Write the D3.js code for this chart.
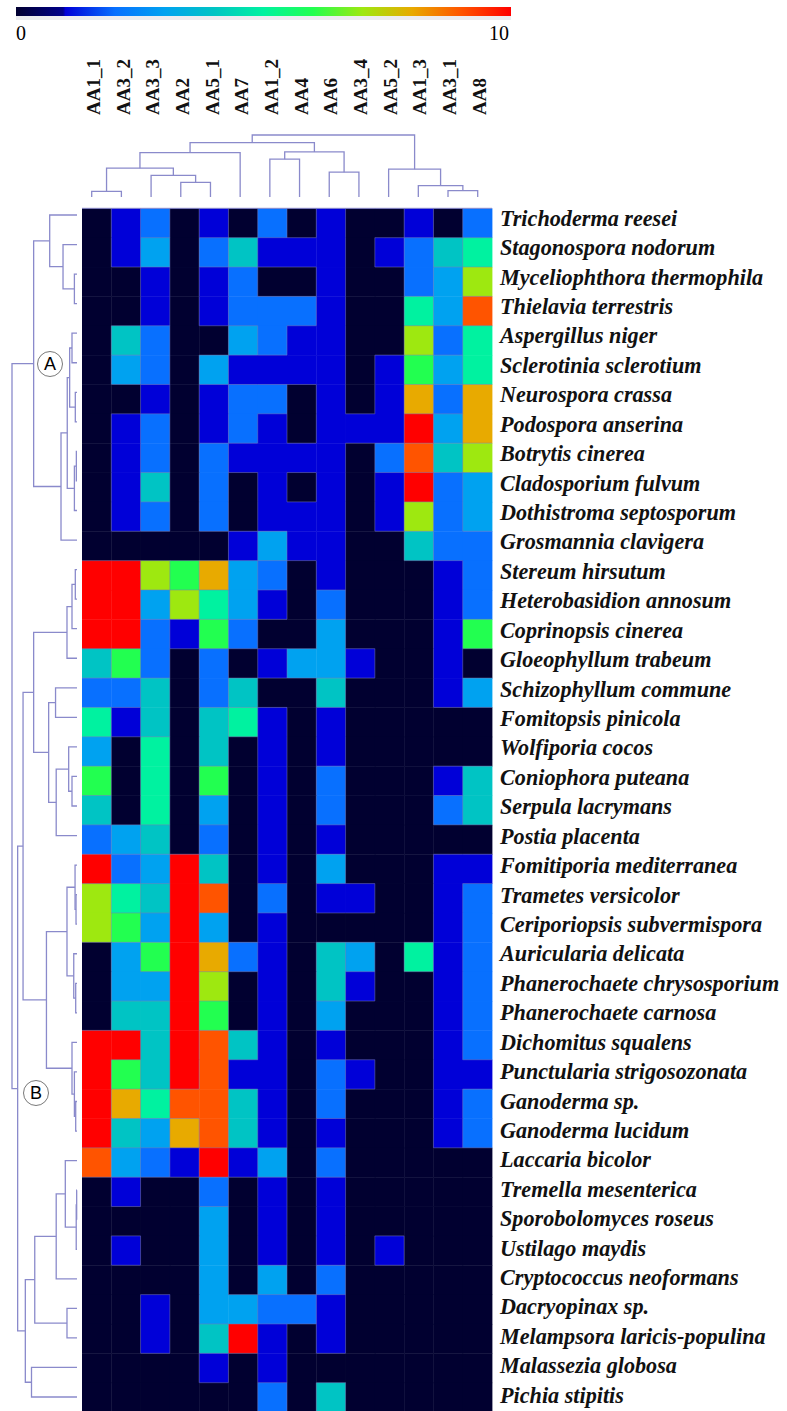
<!DOCTYPE html>
<html><head><meta charset="utf-8">
<script src="https://cdn.jsdelivr.net/npm/d3@7"></script>
<style>body{margin:0;background:#fff}svg{display:block}</style>
</head><body>
<svg id="chart" width="787" height="1411"></svg>
<script>
// ---------- data ----------
const columns = ["AA1_1","AA3_2","AA3_3","AA2","AA5_1","AA7","AA1_2","AA4","AA6","AA3_4","AA5_2","AA1_3","AA3_1","AA8"];
const species = ["Trichoderma reesei","Stagonospora nodorum","Myceliophthora thermophila","Thielavia terrestris",
"Aspergillus niger","Sclerotinia sclerotium","Neurospora crassa","Podospora anserina","Botrytis cinerea",
"Cladosporium fulvum","Dothistroma septosporum","Grosmannia clavigera","Stereum hirsutum","Heterobasidion annosum",
"Coprinopsis cinerea","Gloeophyllum trabeum","Schizophyllum commune","Fomitopsis pinicola","Wolfiporia cocos",
"Coniophora puteana","Serpula lacrymans","Postia placenta","Fomitiporia mediterranea","Trametes versicolor",
"Ceriporiopsis subvermispora","Auricularia delicata","Phanerochaete chrysosporium","Phanerochaete carnosa",
"Dichomitus squalens","Punctularia strigosozonata","Ganoderma sp.","Ganoderma lucidum","Laccaria bicolor",
"Tremella mesenterica","Sporobolomyces roseus","Ustilago maydis","Cryptococcus neoformans","Dacryopinax sp.",
"Melampsora laricis-populina","Malassezia globosa","Pichia stipitis"];
// one row per species, one value (0-10) per column
const values = [
[0,1,2,0,1,0,2,0,1,0,0,1,0,2],
[0,1,3,0,2,4,1,1,1,0,1,2,4,5],
[0,0,1,0,1,2,0,0,1,0,0,2,3,7],
[0,0,1,0,1,2,2,2,1,0,0,5,3,9],
[0,4,2,0,0,3,2,1,1,0,0,7,2,5],
[0,3,2,0,3,1,1,1,1,0,1,6,3,5],
[0,0,1,0,1,2,2,0,1,0,1,8,2,8],
[0,1,2,0,1,2,1,0,1,1,1,10,3,8],
[0,1,2,0,2,1,1,1,1,0,2,9,4,7],
[0,1,4,0,2,0,1,0,1,0,1,10,2,3],
[0,1,2,0,2,0,1,1,1,0,1,7,2,3],
[0,0,0,0,0,1,3,1,1,0,0,4,2,2],
[10,10,7,6,8,3,2,0,1,0,0,0,1,2],
[10,10,3,7,5,3,1,0,2,0,0,0,1,2],
[10,10,2,1,6,2,0,0,3,0,0,0,1,6],
[4,6,2,0,2,0,1,3,3,1,0,0,1,0],
[2,2,4,0,2,4,0,0,4,0,0,0,1,3],
[5,1,4,0,4,5,1,0,1,0,0,0,0,0],
[3,0,5,0,4,0,1,0,1,0,0,0,0,0],
[6,0,5,0,6,0,1,0,2,0,0,0,1,4],
[4,0,5,0,3,0,1,0,2,0,0,0,2,4],
[2,3,4,0,2,0,1,0,1,0,0,0,0,0],
[10,2,3,10,4,0,1,0,3,0,0,0,1,1],
[7,5,4,10,9,0,2,0,1,1,0,0,1,2],
[7,6,3,10,3,0,1,0,0,0,0,0,1,2],
[0,3,6,10,8,2,1,0,4,3,0,5,1,2],
[0,3,3,10,7,0,1,0,4,1,0,0,1,2],
[0,4,4,10,6,0,1,0,3,0,0,0,1,2],
[10,10,4,10,9,4,1,0,1,0,0,0,1,2],
[10,6,4,10,9,1,1,0,2,1,0,0,1,1],
[10,8,5,9,9,4,1,0,2,0,0,0,1,2],
[10,4,3,8,9,4,1,0,1,0,0,0,1,2],
[9,3,2,1,10,1,3,0,2,0,0,0,0,0],
[0,1,0,0,2,0,1,0,1,0,0,0,0,0],
[0,0,0,0,3,0,1,0,1,0,0,0,0,0],
[0,1,0,0,3,0,1,0,1,0,1,0,0,0],
[0,0,0,0,3,0,3,0,2,0,0,0,0,0],
[0,0,1,0,3,3,2,2,1,0,0,0,0,0],
[0,0,1,0,4,10,1,0,1,0,0,0,0,0],
[0,0,0,0,1,0,1,0,0,0,0,0,0,0],
[0,0,0,0,0,0,2,0,4,0,0,0,0,0]
];
const colorTicks = ["0","10"];
const colorLevels = [0,0.95,1,2,3,4,5,6,7,8,9,10];
const colorRange = ["#010030","#00008c","#0000d8","#0870ff","#00a2f0","#00c4c4","#00f2a0","#22ff50","#9ee810","#e8aa00","#ff5400","#ff0000"];
// dendrograms: [childA, childB, height]; ids >= n are earlier merges (scipy style)
const rowLinkage = [
[2,3,0.04],[1,41,0.215],[0,42,0.42],[4,5,0.077],[6,7,0.026],[44,45,0.113],[8,9,0.01],[47,10,0.04],
[46,48,0.15],[49,11,0.246],[43,50,0.667],
[12,13,0.026],[52,14,0.077],[53,15,0.154],[16,17,0.33],[19,20,0.077],[18,56,0.128],[57,21,0.32],
[55,58,0.436],[54,59,0.667],[23,24,0.015],[22,61,0.03],[26,27,0.02],[25,63,0.05],[62,64,0.154],
[30,31,0.02],[29,66,0.04],[28,67,0.077],[65,68,0.47],[60,69,0.83],[33,34,0.005],[71,35,0.012],
[32,72,0.18],[73,36,0.32],[37,38,0.154],[74,75,0.65],[39,40,0.70],[76,77,0.795],[70,78,0.913],
[51,79,1.0]
];
const colLinkage = [
[0,1,0.091],[3,4,0.235],[2,15,0.348],[14,16,0.465],[17,5,0.717],[6,7,0.61],[8,9,0.401],
[19,20,0.727],[18,21,0.877],[12,13,0.102],[11,23,0.182],[10,24,0.449],[22,25,1.0]
];
const clusterLabels = [{t:"A", node:51},{t:"B", node:79}];

// ---------- drawing ----------
const svg = d3.select("#chart");
const color = d3.scaleLinear().domain(colorLevels).range(colorRange).clamp(true);
const x = d3.scaleBand().domain(columns).range([82, 492]);
const y = d3.scaleBand().domain(species).range([208.3, 208.3 + 29.36*species.length]);
const serif = "'Liberation Serif','Times New Roman',serif";
const lineColor = "#8a8acb";

// color bar
const defs = svg.append("defs");
const grad = defs.append("linearGradient").attr("id","cbar");
colorLevels.forEach((v,i)=>grad.append("stop").attr("offset", (v/10*100)+"%").attr("stop-color", colorRange[i]));
const cbX = d3.scaleLinear().domain([0,10]).range([16,511]);
svg.append("rect").attr("x",cbX(0)).attr("y",16).attr("width",cbX(10)-cbX(0)).attr("height",4).attr("fill","#ececf0");
svg.append("rect").attr("x",cbX(0)).attr("y",7).attr("width",cbX(10)-cbX(0)).attr("height",9).attr("fill","url(#cbar)");
svg.append("text").attr("x",cbX(0)).attr("y",40).attr("font-family",serif).attr("font-size",20).text(colorTicks[0]);
svg.append("text").attr("x",cbX(10)-2).attr("y",40).attr("text-anchor","end").attr("font-family",serif).attr("font-size",20).text(colorTicks[1]);

// heatmap cells
const cells = [];
values.forEach((row,i)=>row.forEach((v,j)=>cells.push({s:species[i],c:columns[j],v,i,j})));
svg.append("g").selectAll("rect").data(cells).join("rect")
  .attr("x",d=>x(d.c)).attr("y",d=>y(d.s))
  .attr("width",x.bandwidth()+0.4).attr("height",y.bandwidth()+0.4)
  .attr("fill",d=>color(d.v));

// region boundaries
const bg = svg.append("g").attr("stroke","#7a7ab8").attr("stroke-opacity",0.55).attr("stroke-width",0.9);
cells.forEach(d=>{
  if (d.j < columns.length-1 && values[d.i][d.j+1] !== d.v)
    bg.append("line").attr("x1",x(columns[d.j+1])).attr("x2",x(columns[d.j+1])).attr("y1",y(d.s)).attr("y2",y(d.s)+y.bandwidth());
  if (d.i < species.length-1 && values[d.i+1][d.j] !== d.v)
    bg.append("line").attr("y1",y(species[d.i+1])).attr("y2",y(species[d.i+1])).attr("x1",x(d.c)).attr("x2",x(d.c)+x.bandwidth());
});
svg.append("line").attr("x1",82).attr("x2",492).attr("y1",208.3).attr("y2",208.3).attr("stroke",lineColor).attr("stroke-width",1);

// row labels
const labelY = d3.scalePoint().domain(species).range([218,1395]);
svg.append("g").selectAll("text").data(species).join("text")
  .attr("x",500).attr("y",d=>labelY(d)).attr("dy","0.35em")
  .attr("font-family",serif).attr("font-weight","bold").attr("font-style","italic").attr("font-size",22.2)
  .attr("fill","#111").text(d=>d);

// column labels
const leafX = d3.scaleLinear().domain([0, columns.length-1]).range([91.7,477.7]);
svg.append("g").selectAll("text").data(columns).join("text")
  .attr("transform",(d,i)=>`translate(${leafX(i)+1.5},115) rotate(-90)`).attr("dy","0.35em")
  .attr("font-family",serif).attr("font-weight","bold").attr("font-size",19).attr("fill","#111").text(d=>d);

// dendrogram builder
function buildTree(linkage, n){
  const pos = d3.range(n), hgt = d3.range(n).map(()=>0);
  linkage.forEach(([a,b,h])=>{ pos.push((pos[a]+pos[b])/2); hgt.push(h); });
  return {pos,hgt};
}
// row dendrogram (horizontal)
const rowT = buildTree(rowLinkage, species.length);
const rowLeaf = d3.scaleLinear().domain([0, species.length-1]).range([215,1397]);
const rowH = d3.scaleLinear().domain([0,1]).range([77,12]);
const rg = svg.append("g").attr("fill","none").attr("stroke",lineColor).attr("stroke-width",1.3);
rowLinkage.forEach(([a,b,h])=>{
  const xn = rowH(h);
  const p = d3.path();
  p.moveTo(rowH(rowT.hgt[a]), rowLeaf(rowT.pos[a]));
  p.lineTo(xn, rowLeaf(rowT.pos[a]));
  p.lineTo(xn, rowLeaf(rowT.pos[b]));
  p.lineTo(rowH(rowT.hgt[b]), rowLeaf(rowT.pos[b]));
  rg.append("path").attr("d",p.toString());
});
// column dendrogram (vertical)
const colT = buildTree(colLinkage, columns.length);
const colH = d3.scaleLinear().domain([0,1]).range([197,135]);
const cg = svg.append("g").attr("fill","none").attr("stroke",lineColor).attr("stroke-width",1.3);
colLinkage.forEach(([a,b,h])=>{
  const yn = colH(h);
  const p = d3.path();
  p.moveTo(leafX(colT.pos[a]), colH(colT.hgt[a]));
  p.lineTo(leafX(colT.pos[a]), yn);
  p.lineTo(leafX(colT.pos[b]), yn);
  p.lineTo(leafX(colT.pos[b]), colH(colT.hgt[b]));
  cg.append("path").attr("d",p.toString());
});

// cluster circle labels
const circlePos = {A:[50,364], B:[36,1093]};
clusterLabels.forEach(c=>{
  const [cx,cy] = circlePos[c.t];
  svg.append("circle").attr("cx",cx).attr("cy",cy).attr("r",12.5).attr("fill","#fff").attr("stroke","#555").attr("stroke-width",0.8);
  svg.append("text").attr("x",cx).attr("y",cy).attr("dy","0.36em").attr("text-anchor","middle")
    .attr("font-family","'Liberation Sans',Arial,sans-serif").attr("font-size",18).attr("fill","#000").text(c.t);
});
</script>
</body></html>
